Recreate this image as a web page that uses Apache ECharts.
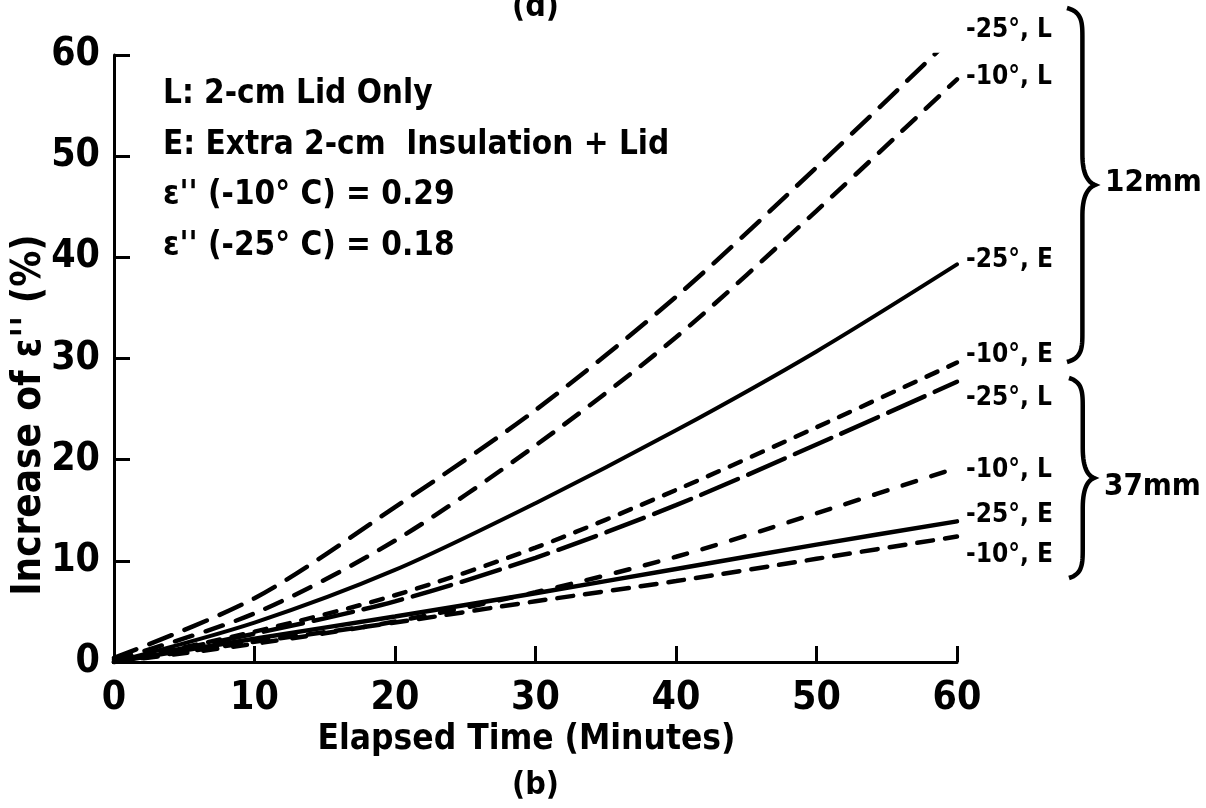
<!DOCTYPE html>
<html>
<head>
<meta charset="utf-8">
<style>
  html, body { margin: 0; padding: 0; background: #fff; }
  #chart { width: 1206px; height: 808px; }
</style>
<script src="https://cdn.jsdelivr.net/npm/echarts@6/dist/echarts.min.js"></script>
</head>
<body>
<div id="chart"></div>
<script>
// Elapsed time (minutes)
const minutes = [0, 10, 20, 30, 40, 50, 60];
const xTicks = [0, 10, 20, 30, 40, 50, 60];
const yTicks = [0, 10, 20, 30, 40, 50, 60];

// Increase of ε'' (%), 12 mm sample
const mm12_m25_L = [0.4, 6.3, 15.3, 24.9, 36.1, 48.9, 62.2];
const mm12_m10_L = [0.2, 4.8, 12.0, 21.4, 32.1, 44.6, 57.6];
const mm12_m25_E = [0.0, 3.9, 9.1, 15.7, 22.9, 30.7, 39.3];
const mm12_m10_E = [0.0, 3.0, 6.6, 11.3, 17.0, 23.2, 29.6];

// Increase of ε'' (%), 37 mm sample
const mm37_m25_L = [0.0, 2.8, 6.0, 10.3, 15.5, 21.5, 27.7];
const mm37_m10_L = [0.0, 1.8, 4.0, 6.9, 10.4, 14.7, 19.2];
const mm37_m25_E = [0.0, 2.3, 4.5, 6.8, 9.2, 11.6, 13.9];
const mm37_m10_E = [0.0, 2.0, 3.9, 6.0, 8.0, 10.2, 12.4];

// End-of-line labels
const endNames = ['-25°, L', '-10°, L', '-25°, E', '-10°, E', '-25°, L', '-10°, L', '-25°, E', '-10°, E'];

// Legend / annotation text
const noteLines = [
  'L: 2-cm Lid Only',
  'E: Extra 2-cm  Insulation + Lid',
  "ε'' (-10° C) = 0.29",
  "ε'' (-25° C) = 0.18"
];
const groupNames = ['12mm', '37mm'];
const yName = "Increase of ε'' (%)";

const FONT = "'Liberation Sans Narrow', 'DejaVu Sans Condensed', 'Liberation Sans', sans-serif";

const seriesData = [mm12_m25_L, mm12_m10_L, mm12_m25_E, mm12_m10_E,
                    mm37_m25_L, mm37_m10_L, mm37_m25_E, mm37_m10_E];
// line dash pattern (round caps widen each dash) and end label offset for each curve
const styles = [
  { type: [24, 14], w: 4.5, off: [1, -2] },
  { type: [18, 14], w: 4.5, off: [1, -2] },
  { type: 'solid',  w: 4,   off: [1, -4] },
  { type: [12, 12], w: 4.5, off: [1, -7] },
  { type: [40, 11], w: 4.5, off: [1, 16] },
  { type: [14, 16], w: 4.5, off: [1, 2] },
  { type: 'solid',  w: 4.5, off: [1, -6] },
  { type: [16, 12], w: 4.5, off: [1, 19] }
];

const series = seriesData.map((vals, i) => ({
  type: 'line',
  data: minutes.map((m, k) => [m, vals[k]]),
  smooth: 0.3,
  showSymbol: false,
  lineStyle: { color: '#000', width: styles[i].w, type: styles[i].type, cap: 'round' },
  endLabel: {
    show: true,
    formatter: endNames[i],
    color: '#000',
    fontFamily: FONT,
    fontWeight: 'bold',
    fontSize: 26,
    offset: styles[i].off
  },
  emphasis: { disabled: true },
  silent: true
}));

const chart = echarts.init(document.getElementById('chart'));

// sample a cubic bezier into points
function cubic(p0, p1, p2, p3, n) {
  const pts = [];
  for (let i = 0; i <= n; i++) {
    const t = i / n, u = 1 - t;
    pts.push([
      u*u*u*p0[0] + 3*u*u*t*p1[0] + 3*u*t*t*p2[0] + t*t*t*p3[0],
      u*u*u*p0[1] + 3*u*u*t*p1[1] + 3*u*t*t*p2[1] + t*t*t*p3[1]
    ]);
  }
  return pts;
}

// right-facing curly brace from y0 to y1 with its tip at ym
function brace(x, y0, y1, ym, w) {
  const q = x + w * 0.55, d = 30;
  return [].concat(
    cubic([x, y0], [q, y0 + 4], [q, y0 + d * 0.5], [q, y0 + d], 16),
    cubic([q, ym - d], [q, ym - 8], [x + w - 5, ym - 2], [x + w, ym], 16),
    cubic([x + w, ym], [x + w - 5, ym + 2], [q, ym + 8], [q, ym + d], 16),
    cubic([q, y1 - d], [q, y1 - d * 0.5], [q, y1 - 4], [x, y1], 16)
  );
}

const textStyle = (size) => ({ fill: '#000', fontFamily: FONT, fontWeight: 'bold', fontSize: size });

chart.setOption({
  backgroundColor: '#fff',
  animation: false,
  grid: { left: 114, right: 249, top: 55, bottom: 146 },
  xAxis: {
    type: 'value',
    min: 0, max: 60, interval: 10,
    name: 'Elapsed Time (Minutes)',
    nameLocation: 'middle',
    nameGap: 60,
    nameTextStyle: { fontFamily: FONT, fontWeight: 'bold', fontSize: 35, color: '#000', padding: [0, 18, 0, 0] },
    axisLine: { show: true, lineStyle: { color: '#000', width: 3 } },
    axisTick: { show: true, inside: true, length: 16, lineStyle: { color: '#000', width: 3 } },
    axisLabel: {
      color: '#000', fontFamily: FONT, fontWeight: 'bold', fontSize: 39, margin: 17,
      formatter: v => xTicks.includes(v) ? String(v) : ''
    },
    splitLine: { show: false }
  },
  yAxis: {
    type: 'value',
    min: 0, max: 60, interval: 10,
    axisLine: { show: true, lineStyle: { color: '#000', width: 3 } },
    axisTick: { show: true, inside: true, length: 16, lineStyle: { color: '#000', width: 3 } },
    axisLabel: {
      color: '#000', fontFamily: FONT, fontWeight: 'bold', fontSize: 39, margin: 14,
      formatter: v => yTicks.includes(v) ? String(v) : ''
    },
    splitLine: { show: false }
  },
  series: series,
  graphic: [
    { type: 'text', x: 30, y: 415, rotation: Math.PI / 2,
      style: Object.assign({ text: yName, align: 'center', verticalAlign: 'middle' }, textStyle(40)) },
    { type: 'text', x: 512, y: -8, style: Object.assign({ text: '(d)' }, textStyle(32)) },
    { type: 'text', x: 512, y: 770, style: Object.assign({ text: '(b)' }, textStyle(32)) },
    { type: 'group', x: 163, y: 78, children: noteLines.map((t, i) => ({
        type: 'text', x: 0, y: i * 50.5,
        style: Object.assign({ text: t }, textStyle(33))
      })) },
    { type: 'polyline', shape: { points: brace(1067, 8, 362, 185, 28) },
      style: { fill: null, stroke: '#000', lineWidth: 4.5 } },
    { type: 'polyline', shape: { points: brace(1069, 378, 578, 478, 25) },
      style: { fill: null, stroke: '#000', lineWidth: 4.5 } },
    { type: 'text', x: 1105, y: 167, style: Object.assign({ text: groupNames[0] }, textStyle(31)) },
    { type: 'text', x: 1104, y: 471, style: Object.assign({ text: groupNames[1] }, textStyle(31)) }
  ]
});
</script>
</body>
</html>
